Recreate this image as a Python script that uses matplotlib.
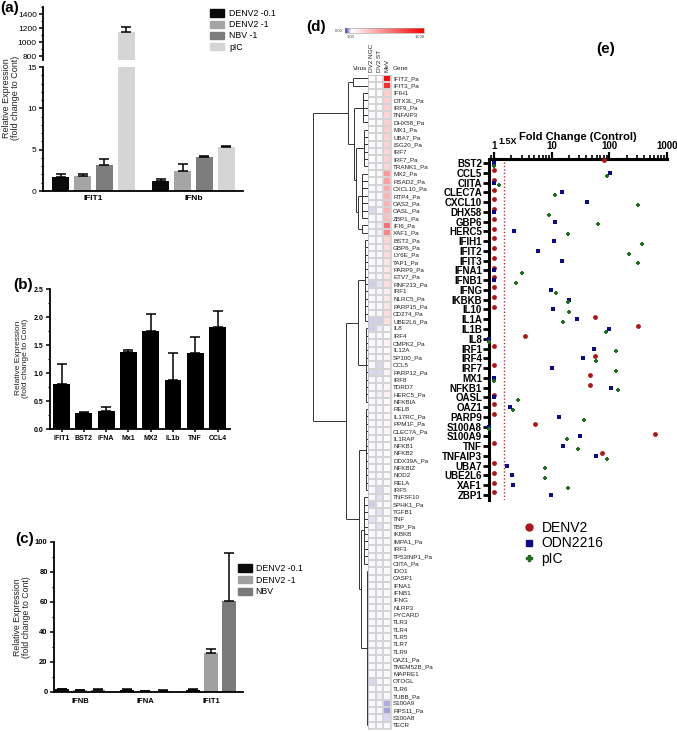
import numpy as np
import matplotlib
matplotlib.use("Agg")
import matplotlib.pyplot as plt
from matplotlib.colors import LinearSegmentedColormap, Normalize
from matplotlib.cm import ScalarMappable
from matplotlib.patches import Patch
from matplotlib.lines import Line2D
from matplotlib.ticker import MultipleLocator, LogLocator, NullFormatter, FixedLocator

plt.rcParams["font.family"] = ["Liberation Sans", "DejaVu Sans"]

W, H = 677, 732

# ---------------- (a) qPCR, broken axis ----------------
A_GENES = ["IFIT1", "IFNb"]
A_SERIES = ["DENV2 -0.1", "DENV2 -1", "NBV -1", "pIC"]
A_VALUES = [[1.7, 1.25], [1.8, 2.4], [3.1, 4.1], [1140, 5.3]]
A_ERRORS = [[0.3, 0.15], [0.25, 0.9], [0.8, 0.1], [70, 0.2]]
A_COLORS = ["#0a0a0a", "#a5a5a5", "#7d7d7d", "#d5d5d5"]

# ---------------- (b) single series ----------------
B_GENES = ["IFIT1", "BST2", "IFNA", "Mx1", "MX2", "IL1b", "TNF", "CCL4"]
B_VALUES = [0.80, 0.29, 0.33, 1.38, 1.75, 0.88, 1.36, 1.82]
B_ERRORS = [0.36, 0.01, 0.07, 0.03, 0.30, 0.47, 0.28, 0.28]

# ---------------- (c) ----------------
C_GENES = ["IFNB", "IFNA", "IFIT1"]
C_SERIES = ["DENV2 -0.1", "DENV2 -1", "NBV"]
C_VALUES = [[2.0, 1.5, 1.5], [1.3, 0.8, 26.0], [1.5, 1.0, 60.5]]
C_ERRORS = [[0.3, 0.3, 0.3], [0.3, 0.2, 3.0], [0.3, 0.2, 32.0]]
C_COLORS = ["#0a0a0a", "#a0a0a0", "#7a7a7a"]

# ---------------- (d) heatmap ----------------
D_COLUMNS = ["DV2 NGC", "DV2 ST", "MeV"]
D_GENES = [
    "IFIT2_Pa", "IFIT3_Pa", "IFIH1", "DTX3L_Pa", "IRF9_Pa", "TNFAIP3", "DHX58_Pa",
    "MX1_Pa", "UBA7_Pa", "ISG20_Pa", "IRF7", "IRF7_Pa", "TRANK1_Pa", "MX2_Pa",
    "RSAD2_Pa", "CXCL10_Pa", "RTP4_Pa", "OAS2_Pa", "OASL_Pa", "ZBP1_Pa", "IFI6_Pa",
    "XAF1_Pa", "BST2_Pa", "GBP6_Pa", "LY6E_Pa", "TAP1_Pa", "PARP9_Pa", "ETV7_Pa",
    "RNF213_Pa", "IRF1", "NLRC5_Pa", "PARP15_Pa", "CD274_Pa", "UBE2L6_Pa", "IL8",
    "IRF4", "CMPK2_Pa", "IL12A", "SP100_Pa", "CCL5", "PARP12_Pa", "IRF8", "TDRD7",
    "HERC5_Pa", "NFKBIA", "RELB", "IL17RC_Pa", "PPM1F_Pa", "CLEC7A_Pa", "IL1RAP",
    "NFKB1", "NFKB2", "DDX39A_Pa", "NFKBIZ", "NOD2", "RELA", "IRF5", "TNFSF10",
    "SPHK1_Pa", "TGFB1", "TNF", "TBP_Pa", "IKBKB", "IMPA1_Pa", "IRF3",
    "TP53INP1_Pa", "CIITA_Pa", "IDO1", "CASP1", "IFNA1", "IFNB1", "IFNG", "NLRP3",
    "PYCARD", "TLR3", "TLR4", "TLR5", "TLR7", "TLR9", "OAZ1_Pa", "TMEM52B_Pa",
    "MAPRE1", "OTOGL", "TLR6", "TUBB_Pa", "S100A9", "RPS11_Pa", "S100A8", "TECR",
]
D_NGC = [
    1.2, 1.2, 1.1, 1.1, 1.1, 1.0, 1.1, 1.1, 1.1, 1.0, 1.0, 1.1, 1.0, 1.1, 1.1, 1.0,
    1.0, 1.0, 0.85, 1.0, 1.0, 1.0, 1.0, 1.0, 1.0, 1.0, 1.0, 1.0, 0.8, 1.0, 1.0, 1.0,
    1.0, 0.8, 0.8, 1.0, 1.0, 1.0, 1.0, 1.0, 0.85, 1.0, 1.0, 1.0, 1.0, 1.0, 1.0, 1.0,
    1.0, 1.0, 1.0, 1.0, 1.0, 1.0, 1.0, 1.0, 1.0, 1.0, 0.8, 1.0, 0.9, 1.0, 1.0, 1.0,
    1.0, 1.0, 1.0, 1.0, 1.0, 1.0, 1.0, 1.0, 1.0, 1.0, 1.0, 1.0, 1.0, 1.0, 1.0, 1.0,
    1.0, 1.0, 0.85, 1.0, 1.0, 1.0, 1.0, 1.0, 1.0,
]
D_ST = [
    1.1, 1.1, 1.0, 1.0, 1.0, 1.0, 1.0, 1.0, 1.0, 1.0, 1.0, 1.0, 1.0, 1.0, 1.0, 1.0,
    1.0, 1.0, 1.0, 1.0, 0.95, 0.95, 1.0, 1.0, 1.0, 1.0, 1.0, 1.0, 0.9, 1.0, 1.0, 1.0,
    1.0, 0.8, 0.95, 1.0, 1.0, 1.0, 1.0, 0.85, 0.85, 1.0, 1.0, 0.95, 1.0, 1.0, 1.0, 1.0,
    1.0, 1.0, 1.0, 1.0, 1.0, 1.0, 1.0, 1.0, 0.85, 0.9, 1.0, 0.9, 1.0, 0.9, 1.0, 1.0,
    1.0, 1.0, 1.0, 1.0, 1.0, 1.0, 1.0, 1.0, 1.0, 1.0, 1.0, 1.0, 1.0, 1.0, 1.0, 1.0,
    1.0, 1.0, 1.0, 1.0, 0.95, 1.0, 1.0, 1.0, 1.0,
]
D_MEV = [
    12.5, 11.0, 3.3, 3.2, 3.2, 3.0, 3.3, 3.3, 3.2, 3.2, 3.0, 3.2, 3.0, 5.8, 5.5, 5.0,
    4.6, 4.5, 4.5, 4.0, 7.7, 6.8, 3.0, 2.6, 2.6, 2.2, 2.2, 2.2, 2.6, 1.8, 2.2, 2.2,
    2.6, 2.5, 1.0, 1.3, 1.7, 1.3, 1.6, 1.3, 1.7, 1.3, 1.6, 1.7, 1.3, 1.3, 1.4, 1.4,
    1.5, 1.1, 1.2, 1.2, 1.1, 1.1, 1.0, 1.0, 1.0, 1.0, 1.0, 1.0, 1.0, 1.0, 1.0, 1.0,
    1.0, 1.0, 1.0, 1.0, 1.0, 1.0, 1.0, 1.0, 1.0, 1.0, 1.0, 1.0, 1.0, 1.0, 1.0, 1.0,
    1.0, 1.0, 1.0, 1.0, 1.0, 0.65, 0.6, 0.85, 1.0,
]
# dendrogram: int = row, [h, a, b] = merge, (lo, hi, h) = flat block of rows
D_TREE = [55,
          [20, [15, 0, 1],
           [14, (2, 6, 5), [12, (7, 12, 4), [10, (13, 19, 6), (20, 21, 6)]]]],
          [22, [10, (22, 33, 3), (34, 44, 2)],
           [9, (45, 56, 2), [7, (57, 66, 4), (67, 88, 1)]]]]

# ---------------- (e) fold change dot plot ----------------
E_GENES = ["BST2", "CCL5", "CIITA", "CLEC7A", "CXCL10", "DHX58", "GBP6", "HERC5",
           "IFIH1", "IFIT2", "IFIT3", "IFNA1", "IFNB1", "IFNG", "IKBKB", "IL10",
           "IL1A", "IL1B", "IL8", "IRF1", "IRF4", "IRF7", "MX1", "NFKB1", "OASL",
           "OAZ1", "PARP9", "S100A8", "S100A9", "TNF", "TNFAIP3", "UBA7", "UBE2L6",
           "XAF1", "ZBP1"]
E_DENV2 = [80, 1, 1, 1, 1, 1, 1, 1, 1, 1, 1, 1, 1, 1, 1, 1, 56, 318, 3.4, 1, 56,
           1, 47, 47, 1, 1, 1, 5.2, 617, 1, 74, 1, 1, 1, 1]
E_ODN = [1, 101, 1, 15.4, 41, 1, 11.4, 2.2, 11, 5.8, 15.4, 1, 1, 9.6, 19.9, 10.7,
         27, 97, 0.81, 55, 34.6, 10.3, 1, 107, 1, 1.93, 13.2, 0.81, 30.6, 15.8, 59,
         1.67, 2.09, 2.12, 9.8]
E_PIC = [1, 91, 1.2, 11.5, 310, 8.9, 64, 19.3, 370, 218, 310, 3.0, 2.4, 11.9, 19,
         19.6, 16, 88, 0.81, 132, 58, 128, 1, 139, 2.65, 2.17, 36, 0.81, 18.8, 28.6,
         91, 7.6, 7.8, 19.3, np.nan]
E_THRESHOLD = 1.5


def rect(l, t, r, b):
    """Pixel box (left, top, right, bottom) -> figure fraction rect."""
    return [l / W, 1 - b / H, (r - l) / W, (b - t) / H]


def ftext(x, y, s, **kw):
    return fig.text(x / W, 1 - y / H, s, **kw)


def style_bar_axes(ax, fs, bold):
    for s in ("top", "right"):
        ax.spines[s].set_visible(False)
    for s in ("left", "bottom"):
        ax.spines[s].set_linewidth(1.3)
    ax.tick_params(direction="out", length=3, width=1.1, labelsize=fs, pad=1.5)
    ax.tick_params(which="minor", length=1.8, width=0.9)
    ax.tick_params(axis="x", which="minor", length=0)
    for lab in ax.get_yticklabels():
        lab.set_fontweight("bold" if bold else "normal")


def grouped_bars(ax, values, errors, colors, labels, step, width):
    x = np.arange(len(values[0]))
    for i, (vals, errs, col, lab) in enumerate(zip(values, errors, colors, labels)):
        xs = x + (i - (len(values) - 1) / 2) * step
        ax.bar(xs, vals, width, color=col, label=lab, zorder=2)
        ax.errorbar(xs, vals, yerr=[np.zeros(len(vals)), errs], fmt="none",
                    ecolor="black", elinewidth=1.1, capsize=3.5, capthick=1.1, zorder=3)


def ylabel(x, y, fs):
    ftext(x, y, "Relative Expression\n(fold change to Cont)", rotation=90,
          ha="center", va="center", fontsize=fs, linespacing=1.1, color="#222222")


fig = plt.figure(figsize=(W / 100, H / 100), dpi=100)
fig.patch.set_facecolor("white")

# ======== (a) ========
ax_lo = fig.add_axes(rect(43, 67, 243, 191))
ax_hi = fig.add_axes(rect(43, 7, 243, 60))
for ax in (ax_lo, ax_hi):
    grouped_bars(ax, A_VALUES, A_ERRORS, A_COLORS, A_SERIES, 0.217, 0.17)
    ax.set_xlim(-0.505, 1.495)
ax_lo.set_ylim(0, 15)
ax_lo.yaxis.set_major_locator(MultipleLocator(5))
ax_lo.yaxis.set_minor_locator(MultipleLocator(1))
ax_hi.set_ylim(743, 1500)
ax_hi.yaxis.set_major_locator(FixedLocator([800, 1000, 1200, 1400]))
ax_hi.yaxis.set_minor_locator(MultipleLocator(100))
ax_lo.set_xticks(range(len(A_GENES)), A_GENES, fontsize=6, fontweight="bold")
style_bar_axes(ax_lo, 6, False)
style_bar_axes(ax_hi, 6, False)
ax_hi.spines["bottom"].set_visible(False)
ax_hi.set_xticks([])
ax_lo.tick_params(axis="x", length=0, pad=3)
ylabel(11, 98, 6.5)
ftext(10, 8, "(a)", fontsize=11, fontweight="bold", ha="center", va="center")
fig.legend(handles=[Patch(color=c) for c in A_COLORS], labels=A_SERIES,
           loc="upper left", bbox_to_anchor=(210 / W, 1 - 9 / H), frameon=False,
           fontsize=6.3, handlelength=1.6, handleheight=0.9, handletextpad=0.6,
           labelspacing=0.25, borderpad=0, borderaxespad=0)

# ======== (b) ========
ax_b = fig.add_axes(rect(50, 289, 230, 429))
ax_b.bar(range(len(B_GENES)), B_VALUES, 0.76, color="black", zorder=2)
ax_b.errorbar(range(len(B_GENES)), B_VALUES,
              yerr=[np.zeros(len(B_VALUES)), B_ERRORS], fmt="none", ecolor="black",
              elinewidth=1.1, capsize=3.5, capthick=1.1, zorder=3)
ax_b.set_xlim(-0.52, 7.56)
ax_b.set_ylim(0, 2.5)
ax_b.yaxis.set_major_locator(MultipleLocator(0.5))
ax_b.yaxis.set_minor_locator(MultipleLocator(0.25))
ax_b.yaxis.set_major_formatter(matplotlib.ticker.FormatStrFormatter("%.1f"))
ax_b.set_xticks(range(len(B_GENES)), B_GENES, fontsize=5, fontweight="bold")
style_bar_axes(ax_b, 5, True)
ax_b.tick_params(axis="x", length=2.5, pad=2)
ylabel(22, 358, 6)
ftext(23, 285, "(b)", fontsize=11, fontweight="bold", ha="center", va="center")

# ======== (c) ========
ax_c = fig.add_axes(rect(54, 542, 243, 692))
grouped_bars(ax_c, C_VALUES, C_ERRORS, C_COLORS, C_SERIES, 0.275, 0.214)
ax_c.set_xlim(-0.397, 2.49)
ax_c.set_ylim(0, 100)
ax_c.yaxis.set_major_locator(MultipleLocator(20))
ax_c.yaxis.set_minor_locator(MultipleLocator(10))
ax_c.set_xticks(range(len(C_GENES)), C_GENES, fontsize=5.5, fontweight="bold")
style_bar_axes(ax_c, 5.5, True)
ax_c.tick_params(axis="x", length=0, pad=4)
ylabel(22, 617, 6.3)
ftext(25, 539, "(c)", fontsize=11, fontweight="bold", ha="center", va="center")
fig.legend(handles=[Patch(color=c) for c in C_COLORS], labels=C_SERIES,
           loc="upper left", bbox_to_anchor=(238 / W, 1 - 564 / H), frameon=False,
           fontsize=6.3, handlelength=1.55, handleheight=0.9, handletextpad=0.45,
           labelspacing=0.3, borderpad=0, borderaxespad=0)

# ======== (d) heatmap + dendrogram ========
n_rows = len(D_GENES)
cmap = LinearSegmentedColormap.from_list(
    "bwr13", [(0, "#2b2bb0"), (1 / 13, "white"), (1, "#ff0000")])
norm = Normalize(vmin=0, vmax=13)
ax_hm = fig.add_axes(rect(368, 74.5, 391, 729))
ax_hm.pcolormesh(np.array([D_NGC, D_ST, D_MEV]).T, cmap=cmap, norm=norm,
                 edgecolors="#d4d4d4", linewidth=0.3)
ax_hm.set_xlim(0, len(D_COLUMNS))
ax_hm.set_ylim(n_rows, 0)
for s in ax_hm.spines.values():
    s.set_linewidth(0.4)
    s.set_color("#bbbbbb")
ax_hm.yaxis.tick_right()
ax_hm.set_yticks(np.arange(n_rows) + 0.5, D_GENES, fontsize=4.5, color="#222222")
ax_hm.xaxis.tick_top()
ax_hm.set_xticks(np.arange(len(D_COLUMNS)) + 0.5, D_COLUMNS, fontsize=4.6,
                 rotation=90, color="#222222")
ax_hm.tick_params(length=0, pad=1.5)
ftext(367, 71, "Virus", fontsize=4.6, ha="right", va="bottom", color="#222222")
ftext(393, 71, "Gene", fontsize=4.6, ha="left", va="bottom", color="#222222")

ax_dn = fig.add_axes(rect(313, 74.5, 368, 729))
ax_dn.set_xlim(55, 0)
ax_dn.set_ylim(n_rows, 0)
ax_dn.axis("off")
DN_KW = dict(color="#333333", lw=0.7, solid_capstyle="butt")


def draw_node(node):
    """Draw a dendrogram node, return (row position, height)."""
    if isinstance(node, int):
        return node + 0.5, 0.0
    if isinstance(node, tuple):
        lo, hi, h = node
        for r in range(lo, hi + 1):
            ax_dn.plot([0, h], [r + 0.5, r + 0.5], **DN_KW)
        ax_dn.plot([h, h], [lo + 0.5, hi + 0.5], **DN_KW)
        return (lo + hi) / 2 + 0.5, h
    h, left, right = node
    (y1, h1), (y2, h2) = draw_node(left), draw_node(right)
    ax_dn.plot([h1, h], [y1, y1], **DN_KW)
    ax_dn.plot([h2, h], [y2, y2], **DN_KW)
    ax_dn.plot([h, h], [y1, y2], **DN_KW)
    return (y1 + y2) / 2, h


root_y, root_h = draw_node(D_TREE)

cax = fig.add_axes(rect(345, 28, 424, 33))
cb = fig.colorbar(ScalarMappable(norm=norm, cmap=cmap), cax=cax, orientation="horizontal")
cb.set_ticks([])
cb.outline.set_linewidth(0.4)
cb.outline.set_edgecolor("#999999")
ftext(343, 31, "0.00", fontsize=3, ha="right", va="center", color="#444444")
ftext(351, 35, "1.00", fontsize=3, ha="center", va="top", color="#444444")
ftext(420, 35, "13.00", fontsize=3, ha="center", va="top", color="#444444")
ftext(316, 27, "(d)", fontsize=11, fontweight="bold", ha="center", va="center")

# ======== (e) dot plot ========
ax_e = fig.add_axes(rect(489, 159, 667, 500))
ax_e.set_xscale("log")
ax_e.set_xlim(0.819, 1000)
ax_e.set_ylim(len(E_GENES) - 0.5 + 0.01, -0.41)
rows = np.arange(len(E_GENES))
ax_e.axvline(E_THRESHOLD, color="#e02020", ls=(0, (1, 1.5)), lw=1.0, zorder=1)
ax_e.scatter(E_DENV2, rows - 0.28, marker="o", s=12, color="#b01515", lw=0,
             clip_on=False, zorder=3, label="DENV2")
ax_e.scatter(E_ODN, rows, marker="s", s=11, color="#0a0a8a", lw=0,
             clip_on=False, zorder=3, label="ODN2216")
ax_e.scatter(E_PIC, rows + 0.28, marker="P", s=10, color="#1d6e1d", lw=0,
             clip_on=False, zorder=3, label="pIC")
for s in ("right", "bottom"):
    ax_e.spines[s].set_visible(False)
ax_e.spines["left"].set_linewidth(2.2)
ax_e.spines["top"].set_linewidth(2.2)
ax_e.xaxis.tick_top()
ax_e.xaxis.set_major_locator(FixedLocator([1, 10, 100, 1000]))
ax_e.xaxis.set_major_formatter(matplotlib.ticker.FixedFormatter(["1", "10", "100", "1000"]))
ax_e.xaxis.set_minor_locator(LogLocator(base=10, subs=np.arange(2, 10)))
ax_e.xaxis.set_minor_formatter(NullFormatter())
ax_e.tick_params(axis="x", which="major", length=5, width=1.6, labelsize=7, pad=1)
ax_e.tick_params(axis="x", which="minor", length=3, width=1.2)
ax_e.set_yticks(rows, E_GENES)
ax_e.tick_params(axis="y", length=4, width=2, labelsize=7, pad=1)
for lab in ax_e.get_xticklabels() + ax_e.get_yticklabels():
    lab.set_fontweight("bold")
ftext(578, 137, "Fold Change (Control)", fontsize=8, fontweight="bold",
      ha="center", va="center")
ftext(498, 141, "1.5X", fontsize=6.5, fontweight="bold", ha="left", va="center")
fig.legend(handles=[Line2D([], [], ls="none", marker="o", ms=5, color="#b01515"),
                    Line2D([], [], ls="none", marker="s", ms=4.5, color="#0a0a8a"),
                    Line2D([], [], ls="none", marker="P", ms=4.5, color="#1d6e1d")],
           labels=["DENV2", "ODN2216", "pIC"], loc="upper left",
           bbox_to_anchor=(522 / W, 1 - 521 / H), frameon=False, fontsize=10,
           handlelength=1.0, handletextpad=0.4, labelspacing=0.1, borderpad=0,
           borderaxespad=0)
ftext(606, 49, "(e)", fontsize=11, fontweight="bold", ha="center", va="center")

fig.savefig("out.png", dpi=100, facecolor="white")
